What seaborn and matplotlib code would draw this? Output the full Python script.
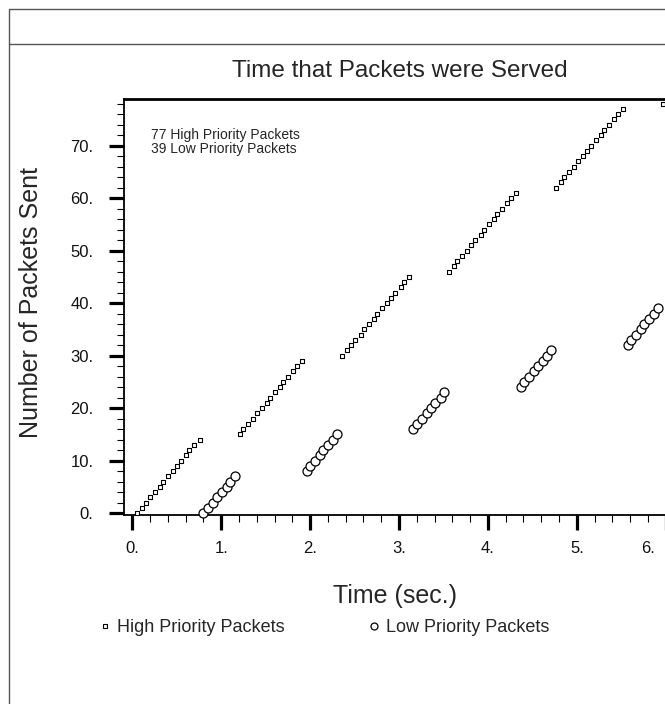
import numpy as np
import pandas as pd
import matplotlib
matplotlib.use("Agg")
import matplotlib.pyplot as plt
from matplotlib.lines import Line2D
from matplotlib.ticker import MultipleLocator, FixedLocator, FixedFormatter
import seaborn as sns

# ---------------- data ----------------
high_time = [
    0.05, 0.106, 0.16, 0.20, 0.255, 0.31, 0.35, 0.405, 0.46, 0.50, 0.55, 0.61, 0.64, 0.70, 0.76,
    1.21, 1.25, 1.305, 1.36, 1.40, 1.455, 1.51, 1.55, 1.605, 1.66, 1.70, 1.755, 1.81, 1.85, 1.905,
    2.36, 2.42, 2.455, 2.51, 2.57, 2.605, 2.66, 2.72, 2.755, 2.81, 2.87, 2.91, 2.96, 3.02, 3.055, 3.11,
    3.56, 3.62, 3.655, 3.71, 3.77, 3.805, 3.86, 3.92, 3.955, 4.01, 4.07, 4.105, 4.16, 4.22, 4.26, 4.32,
    4.766, 4.82, 4.86, 4.915, 4.97, 5.01, 5.066, 5.12, 5.16, 5.215, 5.27, 5.31, 5.365, 5.42, 5.46, 5.516,
    5.97,
]
high_count = [
    0, 1, 2, 3, 4, 5, 6, 7, 8, 9, 10, 11, 12, 13, 14,
    15, 16, 17, 18, 19, 20, 21, 22, 23, 24, 25, 26, 27, 28, 29,
    30, 31, 32, 33, 34, 35, 36, 37, 38, 39, 40, 41, 42, 43, 44, 45,
    46, 47, 48, 49, 50, 51, 52, 53, 54, 55, 56, 57, 58, 59, 60, 61,
    62, 63, 64, 65, 66, 67, 68, 69, 70, 71, 72, 73, 74, 75, 76, 77,
    78,
]
low_time = [
    0.80, 0.855, 0.91, 0.95, 1.005, 1.06, 1.10, 1.155,
    1.96, 2.00, 2.055, 2.11, 2.15, 2.205, 2.26, 2.30,
    3.16, 3.205, 3.26, 3.315, 3.355, 3.41, 3.47, 3.505,
    4.37, 4.41, 4.465, 4.52, 4.56, 4.615, 4.67, 4.71,
    5.575, 5.61, 5.665, 5.72, 5.76, 5.815, 5.87, 5.91,
]
low_count = [
    0, 1, 2, 3, 4, 5, 6, 7,
    8, 9, 10, 11, 12, 13, 14, 15,
    16, 17, 18, 19, 20, 21, 22, 23,
    24, 25, 26, 27, 28, 29, 30, 31,
    32, 33, 34, 35, 36, 37, 38, 39,
]
x_tick_values = [0, 1, 2, 3, 4, 5, 6]
x_tick_labels = ["0.", "1.", "2.", "3.", "4.", "5.", "6."]
y_tick_values = [0, 10, 20, 30, 40, 50, 60, 70]
y_tick_labels = ["0.", "10.", "20.", "30.", "40.", "50.", "60.", "70."]
title_text = "Time that Packets were Served"
x_label = "Time (sec.)"
y_label = "Number of Packets Sent"
note_lines = ["77 High Priority Packets", "39 Low Priority Packets"]
legend_labels = ["High Priority Packets", "Low Priority Packets"]

high_df = pd.DataFrame({"time": high_time, "count": high_count})
low_df = pd.DataFrame({"time": low_time, "count": low_count})

# ---------------- style ----------------
sns.set_style("white")
plt.rcParams["font.family"] = ["Liberation Sans", "DejaVu Sans"]

W, H = 665, 704
fig = plt.figure(figsize=(W / 100, H / 100), dpi=100)
fig.patch.set_facecolor("white")

def fx(px):
    return px / W

def fy(py):
    return 1 - py / H

ax_left, ax_bottom_px, ax_top_px = 124, 515, 99
xlim = (-0.093, 6.4)
ylim = (-0.38, 78.86)
ax_w_px = (xlim[1] - xlim[0]) * 88.9
ax = fig.add_axes([fx(ax_left), fy(ax_bottom_px), ax_w_px / W, (ax_bottom_px - ax_top_px) / H])
ax.set_facecolor("white")

sns.scatterplot(data=high_df, x="time", y="count", ax=ax, marker="s", s=12,
                facecolor="white", edgecolor="black", linewidth=0.8, clip_on=False, zorder=3)
sns.scatterplot(data=low_df, x="time", y="count", ax=ax, marker="o", s=42,
                facecolor="white", edgecolor="black", linewidth=0.9, clip_on=False, zorder=3)

ax.set_xlim(*xlim)
ax.set_ylim(*ylim)
ax.set_xlabel("")
ax.set_ylabel("")

ax.spines["right"].set_visible(False)
ax.spines["top"].set_linewidth(2.0)
ax.spines["left"].set_linewidth(1.3)
ax.spines["bottom"].set_linewidth(1.3)
for sp in ax.spines.values():
    sp.set_color("black")

ax.xaxis.set_major_locator(FixedLocator(x_tick_values))
ax.xaxis.set_major_formatter(FixedFormatter(x_tick_labels[:-1] + [""]))
ax.xaxis.set_minor_locator(MultipleLocator(0.2))
ax.yaxis.set_major_locator(FixedLocator(y_tick_values))
ax.yaxis.set_major_formatter(FixedFormatter(y_tick_labels))
ax.yaxis.set_minor_locator(MultipleLocator(2))

ax.tick_params(which="major", direction="out", length=11, width=2.3, color="black",
               labelsize=12, labelcolor="#111111")
ax.tick_params(which="minor", direction="out", length=5, width=0.8, color="black")
ax.tick_params(axis="x", which="major", pad=8)
ax.tick_params(axis="y", which="major", pad=11)
ax.tick_params(bottom=True, left=True, top=False, right=False, which="both")

# last x tick label, moved in from the clipped edge
ax.annotate(x_tick_labels[-1], xy=(6, 0), xycoords=("data", "axes fraction"),
            xytext=(-13, -24), textcoords="offset points", ha="center", va="center",
            fontsize=12, color="#111111")

# notes inside plot
fig.text(fx(151), fy(135), note_lines[0], fontsize=10, ha="left", va="center")
fig.text(fx(151), fy(149), note_lines[1], fontsize=10, ha="left", va="center")

# titles
fig.text(fx(400), fy(71), title_text, fontsize=17.5, ha="center", va="center")
fig.text(fx(395), fy(596), x_label, fontsize=18, ha="center", va="center")
fig.text(fx(31), fy(303), y_label, fontsize=18, ha="center", va="center", rotation=90)

# legend
h_high = Line2D([], [], linestyle="none", marker="s", markersize=3.3, markerfacecolor="white",
                markeredgecolor="black", markeredgewidth=0.8)
h_low = Line2D([], [], linestyle="none", marker="o", markersize=5, markerfacecolor="white",
               markeredgecolor="black", markeredgewidth=0.9)
hl = 0.6
leg1 = fig.legend(handles=[h_high], labels=[legend_labels[0]], loc="center left",
                  bbox_to_anchor=(fx(105 - hl * 13 / 0.72 / 2), fy(628)), frameon=False,
                  fontsize=13, handlelength=hl, handletextpad=0.37, borderpad=0, borderaxespad=0)
leg2 = fig.legend(handles=[h_low], labels=[legend_labels[1]], loc="center left",
                  bbox_to_anchor=(fx(374 - hl * 13 / 0.72 / 2), fy(628)), frameon=False,
                  fontsize=13, handlelength=hl, handletextpad=0.37, borderpad=0, borderaxespad=0)

# window frame lines
frame_col = "#555555"
fig.add_artist(Line2D([fx(9), fx(9)], [fy(9), 0], color=frame_col, lw=1.0))
fig.add_artist(Line2D([fx(9), 1], [fy(9), fy(9)], color=frame_col, lw=1.0))
fig.add_artist(Line2D([fx(9), 1], [fy(44), fy(44)], color=frame_col, lw=1.0))

fig.savefig("out.png", dpi=100)
